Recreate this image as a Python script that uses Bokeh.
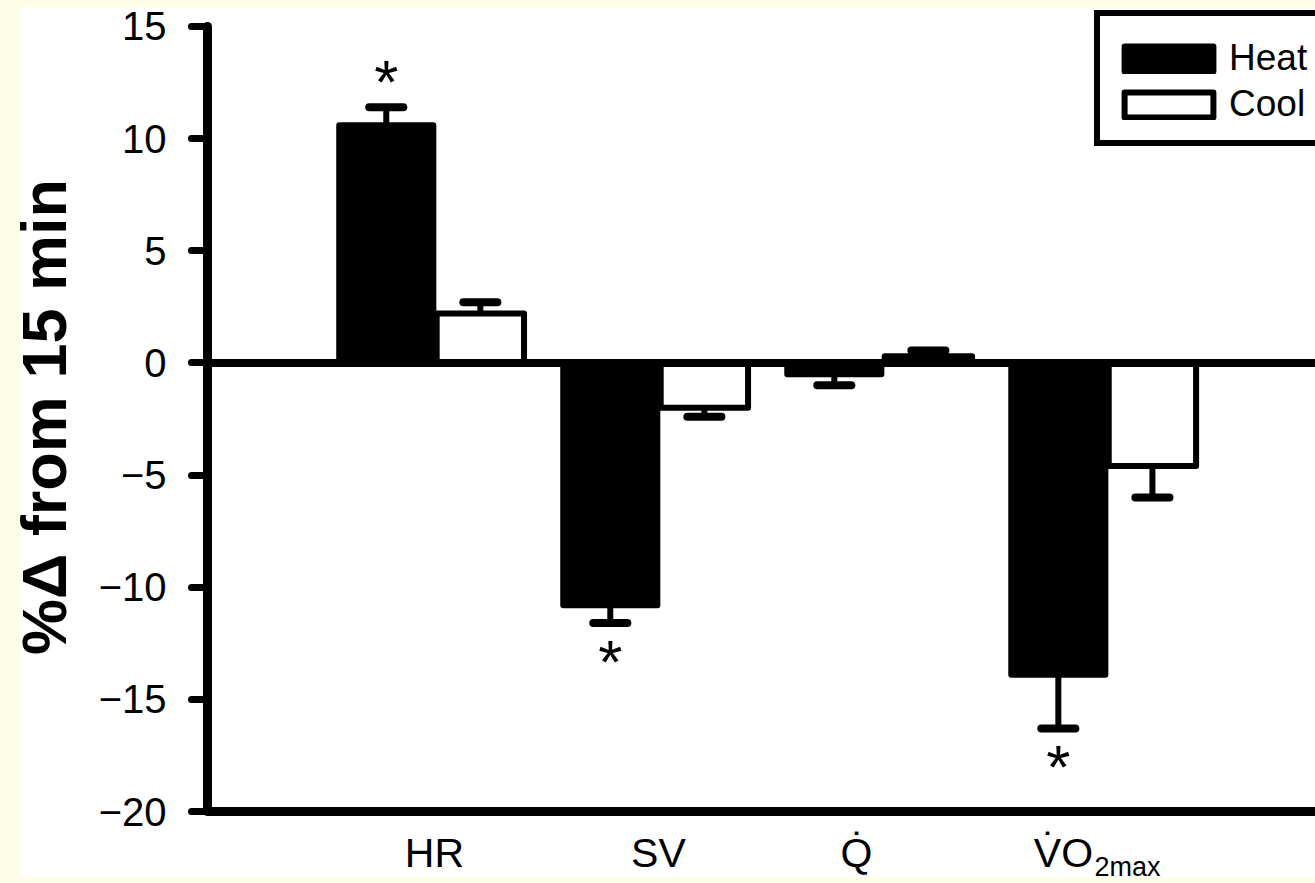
import numpy as np
from bokeh.plotting import figure
from bokeh.models import (ColumnDataSource, Range1d, FixedTicker, Span,
                          Legend, LegendItem)
from bokeh.embed import file_html
from bokeh.resources import INLINE
from bokeh.core.properties import value

# ---------------- data ----------------
categories = ["HR", "SV", "Q\u0307", "V\u0307O"]
category_sub = ["", "", "", "2max"]
heat = [10.6, -10.8, -0.5, -13.9]
heat_sem = [0.8, 0.8, 0.5, 2.4]
cool = [2.2, -2.0, 0.3, -4.6]
cool_sem = [0.5, 0.4, 0.25, 1.4]
heat_sig = [True, True, False, True]
y_ticks = [-20, -15, -10, -5, 0, 5, 10, 15]
series_names = ["Heat", "Cool"]
y_title = "%\u0394 from 15 min"

FONT = "Liberation Sans"
CREAM = "#FEFDE6"

idx = np.arange(len(categories))
heat_x = idx - 0.215
cool_x = idx + 0.205
HEAT_W = 0.42
COOL_W = 0.39
CAP = 0.076
Y_MIN, Y_MAX = y_ticks[0], y_ticks[-1]


def err_end(vals, sems):
    v = np.array(vals, dtype=float)
    s = np.array(sems, dtype=float)
    return v + np.sign(v) * s


heat_end = err_end(heat, heat_sem)
cool_end = err_end(cool, cool_sem)

p = figure(width=1315, height=882,
           x_range=Range1d(-1.013, 3.933), y_range=Range1d(-23.165, 16.159),
           output_backend="svg", toolbar_location=None, x_axis_location=None,
           min_border_left=207, min_border_right=0,
           min_border_top=0, min_border_bottom=0)
p.xgrid.visible = False
p.ygrid.visible = False
p.outline_line_color = None
p.background_fill_color = None
p.border_fill_color = None
p.styles = {"background": (
    "linear-gradient(to bottom, {c} 0px, {c} 7px, rgba(255,255,255,0) 7px, "
    "rgba(255,255,255,0) 877px, {c} 877px), "
    "linear-gradient(to right, {c} 0px, {c} 20px, #ffffff 20px, #ffffff 100%)").format(c=CREAM)}

# y axis
ya = p.yaxis[0]
ya.bounds = (Y_MIN, Y_MAX)
ya.ticker = FixedTicker(ticks=y_ticks)
ya.major_label_overrides = {t: ("\u2212" + str(abs(t)) if t < 0 else str(t)) for t in y_ticks}
ya.axis_line_width = 9
ya.axis_line_cap = "round"
ya.major_tick_line_width = 7
ya.major_tick_line_cap = "round"
ya.major_tick_out = 16
ya.major_tick_in = 0
ya.minor_tick_line_color = None
ya.major_label_text_font = FONT
ya.major_label_text_font_size = "40px"
ya.major_label_text_color = "black"
ya.major_label_standoff = 25
# leading spaces re-centre the title on the -20..15 span of the axis
ya.axis_label = "\u2002\u00a0" + y_title
ya.axis_label_text_font = FONT
ya.axis_label_text_font_style = "bold"
ya.axis_label_text_font_size = "63px"
ya.axis_label_text_color = "black"
ya.axis_label_standoff = 17

# x axis line at the bottom of the value range
p.add_layout(Span(location=Y_MIN, dimension="width", line_color="black", line_width=9))

# error bars (stems then caps)
ex = np.concatenate([heat_x, cool_x])
ey0 = np.concatenate([heat, cool])
ey1 = np.concatenate([heat_end, cool_end])
err_src = ColumnDataSource(dict(x=ex, y0=ey0, y1=ey1, xl=ex - CAP, xr=ex + CAP))
p.segment(x0="x", y0="y0", x1="x", y1="y1", source=err_src,
          line_color="black", line_width=6)
p.segment(x0="xl", y0="y1", x1="xr", y1="y1", source=err_src,
          line_color="black", line_width=8, line_cap="round")

# bars
heat_src = ColumnDataSource(dict(x=heat_x, top=heat))
cool_src = ColumnDataSource(dict(x=cool_x, top=cool))
r_heat = p.vbar(x="x", top="top", bottom=0, width=HEAT_W, source=heat_src,
                fill_color="black", line_color="black", line_width=6, line_join="round")
r_cool = p.vbar(x="x", top="top", bottom=0, width=COOL_W, source=cool_src,
                fill_color="white", line_color="black", line_width=6, line_join="round")

# zero line
p.add_layout(Span(location=0, dimension="width", line_color="black", line_width=8))

# significance asterisks
sig_i = [i for i in range(len(heat)) if heat_sig[i]]
sig_src = ColumnDataSource(dict(
    x=[heat_x[i] for i in sig_i],
    y=[heat_end[i] for i in sig_i],
    t=["*"] * len(sig_i),
    off=[-26 if heat[i] > 0 else 38 for i in sig_i]))
p.text(x="x", y="y", text="t", y_offset="off", source=sig_src,
       text_align="center", text_baseline="alphabetic",
       text_font=value(FONT), text_font_size="62px", text_color="black")

# category labels (below the x axis line)
label_dx = [0, 0, -26, -43]
cat_src = ColumnDataSource(dict(x=idx, y=[Y_MIN] * len(categories), t=categories, dx=label_dx))
p.text(x="x", y="y", text="t", x_offset="dx", y_offset=41, source=cat_src,
       text_align="center", text_baseline="alphabetic",
       text_font=value(FONT), text_font_size="41px", text_color="black")
sub_i = [i for i in range(len(categories)) if category_sub[i]]
sub_src = ColumnDataSource(dict(x=[idx[i] for i in sub_i], y=[Y_MIN] * len(sub_i),
                                t=[category_sub[i] for i in sub_i]))
p.text(x="x", y="y", text="t", x_offset=-12, y_offset=55, source=sub_src,
       text_align="left", text_baseline="alphabetic",
       text_font=value(FONT), text_font_size="27px", text_color="black")

# legend
legend = Legend(items=[LegendItem(label=series_names[0], renderers=[r_heat]),
                       LegendItem(label=series_names[1], renderers=[r_cool])],
                location=(887, 736), orientation="vertical",
                title=" ", title_text_font_size="5px", title_standoff=0,
                glyph_width=111, glyph_height=31, label_standoff=5, label_width=110,
                label_height=46, padding=13, spacing=0, margin=0,
                label_text_font=FONT, label_text_font_size="37px", label_text_color="black",
                border_line_color="black", border_line_width=6, border_line_alpha=1.0,
                background_fill_color="white", background_fill_alpha=1.0)
p.add_layout(legend)

html = file_html(p, INLINE)
html = html.replace("</head>", "<style>html, body { background-color: %s; }</style></head>" % CREAM, 1)
open("out.html", "w").write(html)
